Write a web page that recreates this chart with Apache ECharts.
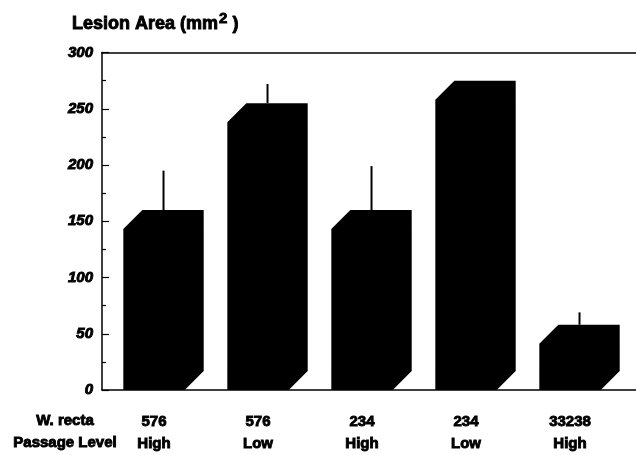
<!DOCTYPE html>
<html>
<head>
<meta charset="utf-8">
<script src="https://cdn.jsdelivr.net/npm/echarts@6/dist/echarts.min.js"></script>
<style>
  html, body { margin: 0; padding: 0; background: #fff; }
  #chart { width: 636px; height: 455px; }
</style>
</head>
<body>
<div id="chart"></div>
<script>
// ---- data ----
const strains = ['576', '576', '234', '234', '33238'];
const passage = ['High', 'Low', 'High', 'Low', 'High'];
const lesionMean = [160, 255, 160, 275, 58];
const lesionUpper = [195, 272, 199, null, 69];
const yTicks = [0, 50, 100, 150, 200, 250, 300];

const FONT = '"Liberation Sans", Arial, Helvetica, sans-serif';
const HEAVY = { textBorderColor: '#000', textBorderWidth: 0.9 };

const barData = lesionMean.map((v, i) => [i, v]);
const errData = lesionUpper.map((u, i) => [i, lesionMean[i], u]).filter(d => d[2] != null);

const chart = echarts.init(document.getElementById('chart'), null, { renderer: 'canvas' });

const option = {
  animation: false,
  backgroundColor: '#ffffff',
  title: {
    text: '{a|Lesion Area (mm}{b|2}{a| )}',
    left: 67,
    top: 6,
    textStyle: {
      rich: {
        a: Object.assign({ fontFamily: FONT, fontWeight: 'bold', fontSize: 18, color: '#000', lineHeight: 22, verticalAlign: 'bottom' }, HEAVY),
        b: Object.assign({ fontFamily: FONT, fontWeight: 'bold', fontSize: 15, color: '#000', lineHeight: 22, verticalAlign: 'top', padding: [0, 0, 0, 1] }, HEAVY)
      }
    }
  },
  grid: { left: 102, right: 0, top: 52.5, bottom: 65, containLabel: false },
  xAxis: [
    {
      type: 'value',
      position: 'bottom',
      min: -0.5,
      max: -0.5 + 534 / 104,
      interval: 0.5,
      splitLine: { show: false },
      axisTick: { show: false },
      axisLine: { show: true, onZero: false, lineStyle: { color: '#000', width: 1.5 } },
      axisLabel: {
        show: true,
        margin: 21,
        showMinLabel: false,
        showMaxLabel: false,
        formatter: (v) => {
          const r = Math.round(v);
          if (Math.abs(v - r) > 1e-6 || r < 0 || r >= strains.length) return '';
          return '{s|' + strains[r] + '}\n{p|' + passage[r] + '}';
        },
        rich: {
          s: Object.assign({ fontFamily: FONT, fontWeight: 'bold', fontSize: 15, color: '#000', lineHeight: 22 }, HEAVY),
          p: Object.assign({ fontFamily: FONT, fontWeight: 'bold', fontSize: 15, color: '#000', lineHeight: 22 }, HEAVY)
        }
      }
    },
    {
      type: 'value',
      position: 'top',
      min: -0.5,
      max: -0.5 + 534 / 104,
      splitLine: { show: false },
      axisTick: { show: false },
      axisLabel: { show: false },
      axisLine: { show: true, onZero: false, lineStyle: { color: '#000', width: 1.5 } }
    }
  ],
  yAxis: {
    type: 'value',
    min: yTicks[0],
    max: yTicks[yTicks.length - 1],
    interval: 50,
    splitLine: { show: false },
    axisLine: { show: true, onZero: false, lineStyle: { color: '#000', width: 1.5 } },
    axisTick: { show: true, inside: true, length: 7, lineStyle: { color: '#000', width: 1.2 } },
    minorTick: { show: true, splitNumber: 2, length: 4, lineStyle: { color: '#000', width: 1.2 } },
    axisLabel: Object.assign({
      margin: 9,
      fontFamily: FONT,
      fontWeight: 'bold',
      fontStyle: 'italic',
      fontSize: 15,
      color: '#000'
    }, HEAVY)
  },
  graphic: [
    { type: 'text', x: 65, y: 421, style: { text: 'W. recta', textAlign: 'center', textVerticalAlign: 'middle', font: 'bold 15px ' + FONT, fill: '#000', stroke: '#000', lineWidth: 0.9 } },
    { type: 'text', x: 65, y: 443, style: { text: 'Passage Level', textAlign: 'center', textVerticalAlign: 'middle', font: 'bold 15px ' + FONT, fill: '#000', stroke: '#000', lineWidth: 0.9 } }
  ],
  series: [
    {
      type: 'custom',
      name: 'bars',
      xAxisIndex: 0,
      data: barData,
      renderItem: (params, api) => {
        const i = api.value(0), v = api.value(1);
        const top = api.coord([i, v]);
        const base = api.coord([i, 0]);
        const unit = api.size([1, 0])[0];
        const w = unit * 0.59, d = unit * 0.183;
        const c = top[0], yv = top[1], y0 = base[1];
        const L = c - w / 2, R = c + w / 2;
        return {
          type: 'polygon',
          shape: {
            points: [
              [L, y0], [L, yv + d], [L + d, yv], [R + d, yv], [R + d, y0 - d], [R, y0]
            ]
          },
          style: { fill: '#000', stroke: null }
        };
      }
    },
    {
      type: 'custom',
      name: 'error',
      xAxisIndex: 0,
      data: errData,
      z: 3,
      renderItem: (params, api) => {
        const i = api.value(0);
        const p1 = api.coord([i, api.value(1)]);
        const p2 = api.coord([i, api.value(2)]);
        const unit = api.size([1, 0])[0];
        const d = unit * 0.183;
        const x = p1[0] + d / 2;
        return {
          type: 'line',
          shape: { x1: x, y1: p1[1], x2: x, y2: p2[1] },
          style: { stroke: '#000', lineWidth: 2 }
        };
      }
    }
  ]
};

chart.setOption(option);
</script>
</body>
</html>
